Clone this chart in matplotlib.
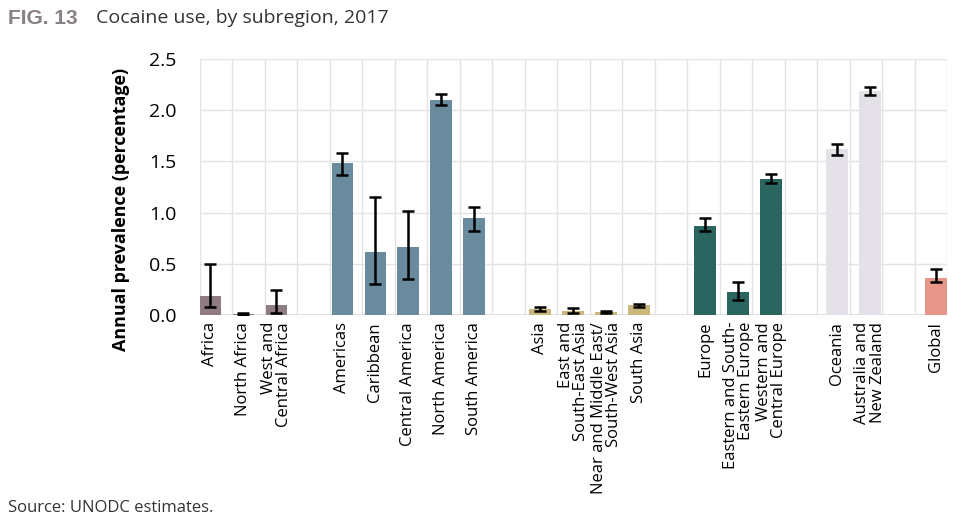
import numpy as np
import matplotlib
matplotlib.use("Agg")
from matplotlib import pyplot as plt

# slots with None are the empty gaps between regions
labels = ["Africa", "North Africa", "West and\nCentral Africa", None,
          "Americas", "Caribbean", "Central America", "North America",
          "South America", None,
          "Asia", "East and\nSouth-East Asia",
          "Near and Middle East/\nSouth-West Asia", "South Asia", None,
          "Europe", "Eastern and South-\nEastern Europe",
          "Western and\nCentral Europe", None,
          "Oceania", "Australia and\nNew Zealand", None,
          "Global"]
best = [0.19, 0.01, 0.10, None,
        1.48, 0.62, 0.66, 2.10, 0.95, None,
        0.06, 0.035, 0.025, 0.095, None,
        0.87, 0.22, 1.33, None,
        1.62, 2.19, None,
        0.36]
lower = [0.08, 0.00, 0.02, None,
         1.37, 0.30, 0.35, 2.05, 0.82, None,
         0.04, 0.016, 0.016, 0.08, None,
         0.82, 0.146, 1.29, None,
         1.56, 2.15, None,
         0.32]
upper = [0.50, 0.02, 0.24, None,
         1.58, 1.15, 1.02, 2.155, 1.05, None,
         0.08, 0.065, 0.04, 0.104, None,
         0.95, 0.325, 1.38, None,
         1.67, 2.23, None,
         0.45]
region = ["Africa"] * 3 + [None] + ["Americas"] * 5 + [None] + \
    ["Asia"] * 4 + [None] + ["Europe"] * 3 + [None] + \
    ["Oceania"] * 2 + [None] + ["Global"]
colors = {"Africa": "#8e7c82", "Americas": "#6a8a9e", "Asia": "#cbb77c",
          "Europe": "#2b6560", "Oceania": "#e4e2e8", "Global": "#e8968a"}

fig = plt.figure(figsize=(9.6, 5.17), dpi=100)
ax = fig.add_axes([0.2083, 0.3907, 0.7782, 0.4952])

x = np.arange(len(labels))
idx = [i for i, v in enumerate(best) if v is not None]
vals = np.array([best[i] for i in idx])
lo = np.array([lower[i] for i in idx])
hi = np.array([upper[i] for i in idx])
ax.bar(x[idx], vals, width=0.66, color=[colors[region[i]] for i in idx],
       zorder=2)
ax.errorbar(x[idx], vals, yerr=[vals - lo, hi - vals], fmt="none",
            ecolor="black", elinewidth=1.8, capsize=4.5, capthick=1.8,
            zorder=3)

x0, x1 = -0.318, 22.33
ax.set_xlim(x0, x1)
ax.set_ylim(0, 2.5)
for g in np.linspace(x0, x1, 24):
    ax.axvline(g, color="#e3e3e3", lw=1, zorder=0)
for g in np.arange(0.5, 2.6, 0.5):
    ax.axhline(g, color="#e3e3e3", lw=1, zorder=0)

ax.set_yticks(np.arange(0, 2.6, 0.5))
ax.set_yticklabels([f"{v:.1f}" for v in np.arange(0, 2.6, 0.5)],
                   fontsize=14, family="Open Sans")
ax.tick_params(axis="y", length=0, pad=17)
ax.set_xticks(x[idx])
ax.set_xticklabels([labels[i] for i in idx], rotation=90, fontsize=12,
                   family="Open Sans", va="top", ha="center",
                   multialignment="right", linespacing=0.95)
ax.tick_params(axis="x", length=0, pad=5)
for s in ax.spines.values():
    s.set_visible(False)
ax.axhline(0, color="#dcdcdc", lw=1.2, zorder=1)

ax.set_ylabel("Annual prevalence (percentage)", fontsize=12.9,
              fontweight="bold", family="Open Sans")
ax.yaxis.set_label_coords(-0.093, 0.414)

fig.text(0.008, 0.965, "FIG. 13", fontsize=15, fontweight="bold",
         color="#8a7f86", family="Liberation Sans", va="center")
fig.text(0.1, 0.965, "Cocaine use, by subregion, 2017", fontsize=14,
         color="#333333", family="Open Sans", va="center")
fig.text(0.008, 0.018, "Source: UNODC estimates.", fontsize=12,
         color="#333333", family="Open Sans", va="center")

fig.savefig("out.png", dpi=100)
